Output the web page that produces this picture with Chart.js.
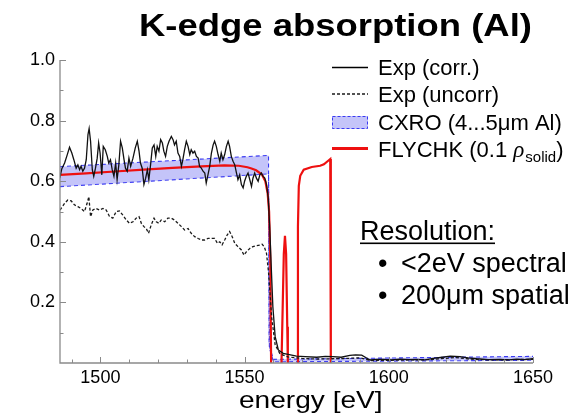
<!DOCTYPE html>
<html>
<head>
<meta charset="utf-8">
<script src="https://cdn.jsdelivr.net/npm/chart.js@4.4.1/dist/chart.umd.min.js"></script>
<style>
  html, body { margin: 0; padding: 0; background: #fff; }
  canvas { display: block; }
</style>
</head>
<body>
<canvas id="chart-kedge" width="576" height="415"></canvas>
<script>
// tick positions
const X_TICKS = [1500, 1550, 1600, 1650];
const X_MINOR = [1490, 1510, 1520, 1530, 1540, 1560, 1570, 1580, 1590, 1610, 1620, 1630, 1640];
const Y_TICKS = [0.2, 0.4, 0.6, 0.8, 1.0];
const Y_MINOR = [0.1, 0.3, 0.5, 0.7, 0.9];

// [energy eV, absorption]
const EXP_CORR = [
  [1485.9, 0.61], [1486.6, 0.64], [1487.6, 0.66], [1488.5, 0.687], [1489.3, 0.712],
  [1490.1, 0.693], [1490.8, 0.671], [1491.6, 0.643], [1492.2, 0.654], [1492.8, 0.638],
  [1493.3, 0.649], [1493.9, 0.633], [1494.5, 0.643], [1495.1, 0.671], [1495.7, 0.754],
  [1496.1, 0.774], [1496.6, 0.732], [1497.2, 0.638], [1497.7, 0.616], [1498.3, 0.643],
  [1498.9, 0.676], [1499.4, 0.726], [1499.9, 0.693], [1500.5, 0.621], [1501.0, 0.715],
  [1501.7, 0.704], [1502.4, 0.682], [1502.9, 0.66], [1503.5, 0.671], [1504.1, 0.638],
  [1504.7, 0.616], [1505.3, 0.66], [1505.8, 0.605], [1506.4, 0.654], [1507.0, 0.732],
  [1507.6, 0.71], [1508.2, 0.671], [1508.7, 0.643], [1509.3, 0.633], [1509.9, 0.676],
  [1510.5, 0.649], [1511.3, 0.676], [1512.1, 0.71], [1512.8, 0.732], [1513.4, 0.699],
  [1513.9, 0.66], [1514.5, 0.643], [1515.1, 0.589], [1515.7, 0.61], [1516.3, 0.638],
  [1516.8, 0.605], [1517.4, 0.654], [1518.0, 0.71], [1518.6, 0.72], [1519.2, 0.682],
  [1519.7, 0.715], [1520.3, 0.699], [1520.9, 0.737], [1521.5, 0.726], [1522.0, 0.699],
  [1522.6, 0.682], [1523.2, 0.715], [1523.8, 0.732], [1524.6, 0.748], [1525.2, 0.737],
  [1525.7, 0.72], [1526.3, 0.732], [1526.9, 0.693], [1527.5, 0.682], [1528.1, 0.649],
  [1528.6, 0.671], [1529.2, 0.704], [1529.8, 0.732], [1530.4, 0.715], [1531.0, 0.688],
  [1531.5, 0.704], [1532.1, 0.693], [1532.7, 0.699], [1533.3, 0.682], [1533.9, 0.676],
  [1534.4, 0.649], [1535.0, 0.643], [1535.6, 0.633], [1536.2, 0.627], [1536.7, 0.594],
  [1537.3, 0.621], [1537.9, 0.649], [1538.5, 0.693], [1539.1, 0.72], [1539.6, 0.732],
  [1540.2, 0.715], [1540.8, 0.688], [1541.4, 0.666], [1541.9, 0.693], [1542.5, 0.671],
  [1543.1, 0.688], [1543.7, 0.715], [1544.3, 0.732], [1544.8, 0.715], [1545.4, 0.682],
  [1546.0, 0.666], [1546.6, 0.654], [1547.2, 0.627], [1547.7, 0.605], [1548.3, 0.621],
  [1548.9, 0.589], [1549.5, 0.578], [1550.0, 0.6], [1550.6, 0.616], [1551.2, 0.627],
  [1551.8, 0.605], [1552.4, 0.583], [1552.9, 0.61], [1553.5, 0.627], [1554.1, 0.61],
  [1554.7, 0.6], [1555.3, 0.621], [1555.8, 0.627], [1556.4, 0.616], [1557.0, 0.61],
  [1557.6, 0.589], [1558.2, 0.545], [1558.7, 0.45], [1559.1, 0.351], [1559.8, 0.186],
  [1560.6, 0.087], [1561.7, 0.043], [1563.4, 0.032], [1565.5, 0.028], [1568.0, 0.023],
  [1571.0, 0.021], [1575.0, 0.019], [1578.0, 0.022], [1580.6, 0.021], [1583.5, 0.019],
  [1586.5, 0.025], [1588.5, 0.027], [1590.6, 0.026], [1592.0, 0.018], [1593.5, 0.010],
  [1596.0, 0.012], [1598.0, 0.012], [1601.0, 0.010], [1603.9, 0.013], [1607.0, 0.011],
  [1609.7, 0.012], [1612.5, 0.010], [1615.4, 0.015], [1618.5, 0.019], [1621.3, 0.023],
  [1624.7, 0.021], [1627.5, 0.017], [1630.5, 0.014], [1634.5, 0.011], [1638.6, 0.012],
  [1641.5, 0.010], [1644.4, 0.013], [1647.0, 0.011], [1650.0, 0.014]
];

const EXP_UNCORR = [
  [1486.0, 0.505], [1486.4, 0.51], [1487.6, 0.527], [1488.7, 0.538], [1489.9, 0.535],
  [1491.0, 0.522], [1492.2, 0.516], [1493.3, 0.51], [1494.5, 0.5], [1495.4, 0.527],
  [1496.0, 0.549], [1496.6, 0.483], [1497.4, 0.505], [1498.5, 0.51], [1499.7, 0.505],
  [1500.9, 0.51], [1502.0, 0.505], [1503.2, 0.483], [1504.3, 0.478], [1505.5, 0.5],
  [1506.6, 0.502], [1507.8, 0.488], [1509.0, 0.472], [1510.1, 0.461], [1511.3, 0.466],
  [1512.4, 0.478], [1513.4, 0.483], [1514.2, 0.461], [1515.1, 0.45], [1515.9, 0.444],
  [1516.7, 0.428], [1517.6, 0.455], [1518.6, 0.478], [1519.4, 0.466], [1520.3, 0.461],
  [1521.1, 0.472], [1522.3, 0.466], [1523.4, 0.478], [1524.6, 0.478], [1525.7, 0.472],
  [1526.9, 0.461], [1528.1, 0.45], [1529.2, 0.439], [1530.4, 0.444], [1531.5, 0.428],
  [1532.7, 0.417], [1533.9, 0.411], [1535.0, 0.406], [1536.2, 0.406], [1537.3, 0.411],
  [1538.5, 0.411], [1539.6, 0.411], [1540.6, 0.395], [1541.4, 0.4], [1542.2, 0.39],
  [1543.1, 0.406], [1544.0, 0.423], [1544.8, 0.434], [1545.7, 0.417], [1546.6, 0.395],
  [1547.7, 0.384], [1548.9, 0.373], [1549.8, 0.356], [1550.6, 0.367], [1551.8, 0.378],
  [1552.9, 0.384], [1554.1, 0.387], [1555.3, 0.389], [1556.1, 0.392], [1556.8, 0.384],
  [1557.6, 0.362], [1558.3, 0.3], [1559.4, 0.15], [1560.6, 0.06], [1562.3, 0.03],
  [1565.0, 0.02], [1570.0, 0.015], [1575.0, 0.013], [1580.0, 0.014], [1585.0, 0.015],
  [1590.0, 0.017], [1594.0, 0.008], [1600.0, 0.009], [1607.0, 0.010], [1614.0, 0.011],
  [1619.0, 0.015], [1623.0, 0.018], [1628.0, 0.013], [1635.0, 0.010], [1642.0, 0.011],
  [1650.0, 0.012]
];

// CXRO 4...5 um band edges
const CXRO_UPPER = [
  [1486, 0.648], [1558.3, 0.685], [1558.5, 0.06], [1560, 0.012], [1650, 0.022]
];
const CXRO_LOWER = [
  [1486, 0.582], [1558.3, 0.624], [1558.6, 0.05], [1560, 0.004], [1650, 0.009]
];

// FLYCHK, null = gap (curve sits on the axis)
const FLYCHK = [
  [1486, 0.621], [1495, 0.626], [1505, 0.632], [1515, 0.638], [1525, 0.644],
  [1535, 0.649], [1543, 0.652], [1548, 0.651], [1551, 0.646], [1552.4, 0.642],
  [1554, 0.636], [1556, 0.622], [1557.2, 0.6], [1558, 0.56], [1558.5, 0.5],
  [1558.9, 0.35], [1559.2, 0], [1560, null], [1562.8, 0], [1563.2, 0.18],
  [1563.6, 0.36], [1564.0, 0.42], [1564.4, 0.36], [1564.8, 0.12], [1565.0, 0],
  [1566, null], [1568.2, 0], [1568.5, 0.45], [1568.8, 0.585], [1569.3, 0.618],
  [1570.5, 0.638], [1573.3, 0.647], [1576.2, 0.651], [1577.5, 0.656], [1579.3, 0.67],
  [1579.7, 0.673], [1579.9, 0]
];

const FONT = '"Liberation Sans", Arial, sans-serif';
const BAND_FILL = 'rgba(100,100,240,0.38)';
const BAND_EDGE = '#3a3af2';
const RED = '#ee1010';

const toXY = (arr) => arr.map(([x, y]) => ({ x, y }));

function stretchText(ctx, str, x, y, font, sx) {
  ctx.save();
  ctx.translate(x, y);
  ctx.scale(sx, 1);
  ctx.font = font;
  ctx.fillText(str, 0, 0);
  ctx.restore();
}

const decorations = {
  id: 'decorations',
  afterDatasetsDraw(chart) {
    const { ctx, chartArea: a, scales } = chart;
    const x = scales.x, y = scales.y;
    ctx.save();
    ctx.strokeStyle = '#8a8a8a';
    ctx.lineWidth = 1.3;
    ctx.beginPath();
    ctx.moveTo(a.left, y.getPixelForValue(1.0));
    ctx.lineTo(a.left, a.bottom);
    ctx.lineTo(a.right, a.bottom);
    ctx.stroke();

    ctx.lineWidth = 1;
    ctx.beginPath();
    X_TICKS.concat(X_MINOR).forEach((v) => {
      const px = Math.round(x.getPixelForValue(v)) + 0.5;
      const len = X_TICKS.includes(v) ? 6 : 3.5;
      ctx.moveTo(px, a.bottom);
      ctx.lineTo(px, a.bottom - len);
    });
    Y_TICKS.concat(Y_MINOR).forEach((v) => {
      const py = Math.round(y.getPixelForValue(v)) + 0.5;
      const len = Y_TICKS.includes(v) ? 6 : 3.5;
      ctx.moveTo(a.left, py);
      ctx.lineTo(a.left + len, py);
    });
    ctx.stroke();
    ctx.restore();
  },
  afterDraw(chart) {
    const ctx = chart.ctx;
    ctx.save();
    ctx.fillStyle = '#000';
    ctx.textBaseline = 'alphabetic';
    ctx.textAlign = 'left';

    stretchText(ctx, 'K-edge absorption (Al)', 139, 35.5, 'bold 31px ' + FONT, 1.176);
    stretchText(ctx, 'energy [eV]', 239, 407.5, '24px ' + FONT, 1.17);

    // legend
    const lx0 = 332, lx1 = 368, tx = 378;
    const base = [74.5, 102, 129.5, 157];
    ctx.font = '22px ' + FONT;

    ctx.strokeStyle = '#000';
    ctx.lineWidth = 1.4;
    ctx.beginPath(); ctx.moveTo(lx0, 67.5); ctx.lineTo(lx1, 67.5); ctx.stroke();
    ctx.fillText('Exp (corr.)', tx, base[0]);

    ctx.strokeStyle = '#1a1a1a';
    ctx.lineWidth = 1.3;
    ctx.setLineDash([3, 2]);
    ctx.beginPath(); ctx.moveTo(lx0, 94); ctx.lineTo(lx1, 94); ctx.stroke();
    ctx.setLineDash([]);
    ctx.fillText('Exp (uncorr)', tx, base[1]);

    ctx.fillStyle = BAND_FILL;
    ctx.fillRect(lx0, 116, lx1 - lx0, 13);
    ctx.strokeStyle = BAND_EDGE;
    ctx.lineWidth = 1;
    ctx.setLineDash([3, 2]);
    ctx.strokeRect(lx0 + 0.5, 116.5, lx1 - lx0 - 1, 12);
    ctx.setLineDash([]);
    ctx.fillStyle = '#000';
    ctx.fillText('CXRO (4...5\u03bcm Al)', tx, base[2]);

    ctx.strokeStyle = RED;
    ctx.lineWidth = 3;
    ctx.beginPath(); ctx.moveTo(lx0, 148.5); ctx.lineTo(lx1, 148.5); ctx.stroke();
    let cx = tx;
    const s1 = 'FLYCHK (0.1 ';
    ctx.fillText(s1, cx, base[3]);
    cx += ctx.measureText(s1).width;
    ctx.font = 'italic 23px "Liberation Serif", serif';
    ctx.fillText('\u03c1', cx, base[3]);
    cx += ctx.measureText('\u03c1').width + 1;
    ctx.font = '15px ' + FONT;
    ctx.fillText('solid', cx, base[3] + 5);
    cx += ctx.measureText('solid').width;
    ctx.font = '22px ' + FONT;
    ctx.fillText(')', cx, base[3]);

    // resolution note
    ctx.font = '27px ' + FONT;
    ctx.fillText('Resolution:', 360, 239.5);
    ctx.fillRect(360, 242.5, 135, 1.6);
    ctx.fillText('\u2022', 378, 271.5);
    ctx.fillText('<2eV spectral', 401, 271.5);
    ctx.fillText('\u2022', 378, 303.5);
    ctx.fillText('200\u03bcm spatial', 401, 303.5);
    ctx.restore();
  }
};

new Chart(document.getElementById('chart-kedge'), {
  type: 'line',
  data: {
    datasets: [
      {
        label: 'Exp (corr.)',
        data: toXY(EXP_CORR),
        borderColor: '#111',
        borderWidth: 1.3,
        pointRadius: 0,
        fill: false,
      },
      {
        label: 'Exp (uncorr)',
        data: toXY(EXP_UNCORR),
        borderColor: '#1a1a1a',
        borderWidth: 1.3,
        borderDash: [3, 2],
        pointRadius: 0,
        fill: false,
      },
      {
        label: 'FLYCHK (0.1 rho_solid)',
        data: toXY(FLYCHK),
        borderColor: RED,
        borderWidth: 2.2,
        pointRadius: 0,
        spanGaps: false,
        fill: false,
      },
      {
        label: 'CXRO upper',
        data: toXY(CXRO_UPPER),
        borderColor: BAND_EDGE,
        borderWidth: 1.1,
        borderDash: [4, 3],
        backgroundColor: BAND_FILL,
        pointRadius: 0,
        fill: '+1',
      },
      {
        label: 'CXRO lower',
        data: toXY(CXRO_LOWER),
        borderColor: BAND_EDGE,
        borderWidth: 1.1,
        borderDash: [4, 3],
        pointRadius: 0,
        fill: false,
      },
    ],
  },
  plugins: [decorations],
  options: {
    responsive: false,
    animation: false,
    layout: { padding: { left: 20, right: 43, top: 60, bottom: 0 } },
    plugins: {
      legend: { display: false },
      tooltip: { enabled: false },
      title: { display: false },
    },
    scales: {
      x: {
        type: 'linear',
        min: 1486,
        max: 1650,
        grid: { display: false, drawTicks: false },
        border: { display: false },
        afterBuildTicks: (s) => { s.ticks = X_TICKS.map((v) => ({ value: v })); },
        afterFit: (s) => { s.height = 52; },
        ticks: {
          color: '#000',
          padding: 4,
          maxRotation: 0,
          font: { family: FONT, size: 18 },
          callback: (v) => String(v),
        },
      },
      y: {
        type: 'linear',
        min: 0,
        max: 1.0,
        grid: { display: false, drawTicks: false },
        border: { display: false },
        afterBuildTicks: (s) => { s.ticks = Y_TICKS.map((v) => ({ value: v })); },
        afterFit: (s) => { s.width = 40; },
        ticks: {
          color: '#000',
          padding: 5,
          font: { family: FONT, size: 18 },
          callback: (v) => v.toFixed(1),
        },
      },
    },
  },
});
</script>
</body>
</html>
